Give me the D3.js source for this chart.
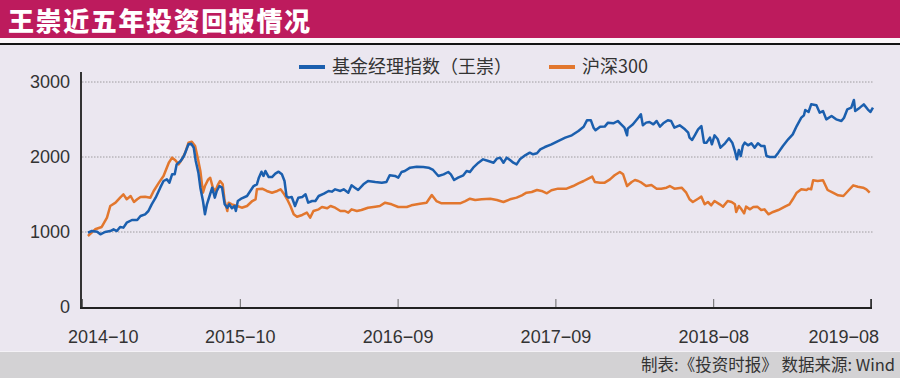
<!DOCTYPE html>
<html>
<head>
<meta charset="utf-8">
<script src="https://cdn.jsdelivr.net/npm/d3@7"></script>
<style>
  body { margin: 0; background: #fff; }
  text { font-family: "Liberation Sans", Arial, "Noto Sans CJK SC", sans-serif; }
  .cjk { font-family: "Noto Sans CJK SC", sans-serif; }
</style>
</head>
<body>
<div id="chart"></div>
<script>
// x is the trading day counted from the start (ticks every 240 days)
const tickDays = [0, 240, 480, 720, 960, 1200];
const tickLabels = ["2014−10", "2015−10", "2016−09", "2017−09", "2018−08", "2019−08"];
const yTicks = [0, 1000, 2000, 3000];
const seriesNames = ["基金经理指数（王崇）", "沪深300"];

// 基金经理指数(王崇)  [day, value]
const wangChong = [
  [9,991],[15,1013],[23,1004],[28,969],[35,1000],[43,1013],[48,1036],[53,1013],[58,1067],[63,1058],
  [68,1124],[76,1160],[84,1160],[89,1213],[96,1236],[101,1280],[106,1369],[112,1458],[119,1591],[124,1680],
  [129,1702],[133,1658],[137,1769],[141,1769],[144,1902],[150,1947],[155,2013],[158,2080],[162,2169],[166,2178],
  [170,2124],[173,1947],[177,1791],[180,1591],[184,1413],[187,1236],[190,1369],[194,1480],[198,1591],[202,1458],
  [205,1547],[209,1613],[213,1591],[217,1369],[221,1324],[224,1369],[228,1316],[232,1347],[234,1280],[237,1413],
  [243,1449],[251,1480],[256,1547],[261,1613],[266,1636],[269,1724],[273,1804],[276,1747],[279,1813],[284,1733],
  [289,1733],[294,1778],[299,1804],[304,1769],[308,1680],[311,1480],[314,1458],[319,1467],[324,1347],[329,1458],
  [335,1467],[340,1502],[344,1391],[350,1413],[355,1413],[360,1480],[368,1511],[375,1547],[380,1538],[385,1569],
  [393,1547],[398,1569],[405,1524],[410,1622],[415,1591],[420,1560],[428,1636],[435,1680],[446,1667],[456,1658],
  [463,1667],[468,1756],[476,1747],[481,1724],[486,1800],[491,1813],[499,1858],[509,1871],[519,1867],[527,1858],
  [534,1827],[542,1747],[550,1769],[557,1800],[561,1769],[566,1693],[572,1724],[580,1756],[585,1813],[590,1800],
  [595,1858],[603,1924],[610,1969],[618,1947],[626,1924],[631,1978],[636,1991],[641,1924],[646,1991],[651,1960],
  [656,1924],[661,1902],[666,1969],[674,2022],[681,2058],[686,2036],[692,2049],[697,2102],[704,2133],[714,2169],
  [724,2213],[735,2258],[745,2289],[755,2347],[763,2404],[768,2489],[774,2489],[778,2391],[781,2356],[788,2404],
  [795,2405],[800,2458],[808,2449],[815,2480],[820,2436],[825,2391],[829,2289],[830,2378],[838,2436],[846,2524],
  [850,2569],[853,2422],[858,2458],[863,2467],[869,2436],[874,2480],[879,2404],[884,2449],[891,2489],[896,2480],
  [901,2391],[909,2422],[917,2369],[922,2324],[924,2258],[928,2227],[932,2289],[937,2369],[942,2413],[946,2191],
  [950,2191],[955,2258],[958,2169],[962,2289],[967,2236],[971,2124],[978,2182],[984,2249],[989,2191],[993,2080],
  [996,1969],[999,2093],[1002,2013],[1005,2147],[1008,2191],[1013,2156],[1018,2182],[1023,2124],[1028,2182],[1033,2147],
  [1038,2147],[1041,2013],[1046,2000],[1054,2000],[1059,2058],[1066,2147],[1074,2236],[1081,2302],[1087,2413],[1094,2524],
  [1098,2556],[1100,2627],[1105,2600],[1109,2702],[1117,2689],[1122,2591],[1127,2613],[1132,2502],[1140,2547],[1147,2502],
  [1155,2480],[1159,2524],[1164,2636],[1170,2658],[1174,2760],[1176,2613],[1183,2658],[1189,2702],[1195,2636],[1199,2600],
  [1203,2658]
];

// 沪深300  [day, value]
const hs300 = [
  [9,947],[20,1036],[30,1067],[38,1191],[43,1347],[51,1391],[58,1458],[63,1502],[68,1436],[74,1480],
  [79,1400],[84,1436],[89,1467],[96,1471],[104,1458],[109,1547],[117,1658],[124,1747],[132,1924],[137,1991],
  [142,1956],[147,1902],[152,1969],[157,2058],[162,2191],[167,2204],[172,2147],[176,1991],[180,1813],[184,1524],
  [187,1613],[192,1702],[195,1724],[199,1591],[203,1547],[207,1636],[210,1680],[214,1636],[217,1413],[221,1280],
  [223,1391],[228,1369],[236,1347],[243,1324],[251,1347],[259,1413],[264,1436],[266,1569],[274,1578],[281,1547],
  [289,1524],[297,1547],[302,1569],[307,1511],[312,1436],[317,1347],[322,1236],[327,1204],[335,1227],[342,1258],
  [347,1191],[352,1280],[360,1302],[365,1333],[373,1316],[378,1347],[385,1324],[393,1280],[400,1280],[405,1258],
  [410,1302],[418,1280],[425,1293],[435,1324],[446,1338],[453,1347],[461,1391],[471,1369],[481,1333],[494,1333],
  [501,1356],[514,1378],[524,1391],[532,1493],[539,1413],[547,1382],[557,1382],[575,1382],[583,1413],[590,1444],
  [598,1427],[608,1436],[621,1444],[631,1427],[641,1400],[651,1436],[661,1458],[669,1489],[676,1524],[684,1533],
  [692,1560],[699,1547],[707,1516],[714,1556],[724,1578],[737,1578],[747,1613],[755,1649],[763,1680],[770,1711],
  [776,1738],[780,1667],[788,1658],[795,1658],[803,1702],[810,1756],[818,1800],[823,1769],[829,1613],[836,1667],
  [841,1693],[846,1680],[851,1658],[858,1613],[866,1627],[874,1578],[881,1578],[889,1591],[894,1613],[901,1578],
  [912,1591],[919,1524],[924,1436],[929,1400],[937,1444],[942,1471],[947,1369],[952,1400],[957,1356],[962,1413],
  [970,1369],[975,1338],[982,1413],[988,1400],[993,1369],[995,1267],[999,1347],[1003,1302],[1007,1249],[1010,1338],
  [1016,1302],[1021,1333],[1027,1338],[1033,1293],[1038,1302],[1044,1236],[1051,1267],[1059,1293],[1069,1338],[1076,1369],
  [1081,1436],[1087,1524],[1094,1569],[1102,1560],[1105,1578],[1109,1569],[1112,1689],[1119,1680],[1127,1689],[1134,1560],
  [1142,1524],[1150,1489],[1158,1480],[1165,1547],[1173,1622],[1180,1604],[1188,1591],[1193,1569],[1198,1524]
];

const colors = ["#1b5fae", "#e2772e"];
const width = 900, height = 378;
const margin = ({top: 72, right: 29, bottom: 71, left: 82});

const x = d3.scaleLinear()
    .domain([0, 1200])
    .range([margin.left, width - margin.right]);

const y = d3.scaleLinear()
    .domain([0, 3000])
    .range([height - margin.bottom, 82]);

const line = d3.line()
    .x(d => x(d[0]))
    .y(d => y(d[1]));

const svg = d3.select("#chart").append("svg")
    .attr("width", width).attr("height", height);

// background panels
svg.append("rect").attr("width", width).attr("height", height).attr("fill", "#ebe7f0");
svg.append("rect").attr("width", width).attr("height", 38).attr("fill", "#bd1b5d");
svg.append("rect").attr("y", 38).attr("width", width).attr("height", 5).attr("fill", "#fbf7fa");
svg.append("rect").attr("y", 43).attr("width", width).attr("height", 2).attr("fill", "#141414");
svg.append("rect").attr("y", 351).attr("width", width).attr("height", 1).attr("fill", "#f4f2f6");
svg.append("rect").attr("y", 352).attr("width", width).attr("height", 26).attr("fill", "#d3d2d4");

svg.append("text")
    .attr("class", "cjk")
    .attr("x", 8).attr("y", 31)
    .attr("fill", "#fff")
    .attr("font-size", 26)
    .attr("font-weight", 900)
    .attr("letter-spacing", 1.6)
    .text("王崇近五年投资回报情况");

svg.append("text")
    .attr("class", "cjk")
    .attr("x", 895).attr("y", 371)
    .attr("text-anchor", "end")
    .attr("fill", "#333")
    .attr("font-size", 16.5)
    .text("制表:《投资时报》 数据来源: Wind");

// gridlines
svg.append("g")
  .selectAll("line")
  .data(yTicks.filter(d => d > 0))
  .join("line")
    .attr("x1", x(0)).attr("x2", x(1200) + 2)
    .attr("y1", d => y(d)).attr("y2", d => y(d))
    .attr("stroke", "#8a8a8a").attr("stroke-width", 0.8)
    .attr("stroke-dasharray", "1.5,1.5");

// y axis
const yAxis = d3.axisLeft(y).tickValues(yTicks).tickFormat(d3.format("d"))
    .tickSize(0).tickPadding(12);
svg.append("g")
    .attr("transform", `translate(${margin.left},0)`)
    .call(yAxis)
    .call(g => g.select(".domain").remove())
    .call(g => g.selectAll("text")
        .attr("font-size", 18).attr("fill", "#333"));

svg.append("line")
    .attr("x1", margin.left - 1).attr("x2", margin.left - 1)
    .attr("y1", margin.top).attr("y2", y(0) + 2)
    .attr("stroke", "#333").attr("stroke-width", 2);

// x axis, ticks point up into the plot
const xAxis = d3.axisBottom(x)
    .tickValues(tickDays)
    .tickFormat((d, i) => tickLabels[i])
    .tickSize(-9).tickSizeOuter(0).tickPadding(22);

svg.append("g")
    .attr("transform", `translate(0,${y(0) + 1})`)
    .call(xAxis)
    .call(g => g.select(".domain").remove())
    .call(g => g.selectAll(".tick line").attr("stroke", "#666").attr("stroke-width", 1))
    .call(g => g.selectAll("text")
        .attr("font-size", 18).attr("fill", "#333")
        .each(function() {
          // keep end labels inside the panel
          const t = d3.select(this);
          const tr = d3.select(this.parentNode).attr("transform");
          const tx = +tr.match(/translate\(([-\d.]+)/)[1];
          const w = this.getComputedTextLength();
          const lo = 68, hi = 879;
          let dx = 0;
          if (tx - w / 2 < lo) dx = lo - (tx - w / 2);
          if (tx + w / 2 > hi) dx = hi - (tx + w / 2);
          t.attr("dx", dx);
        }));

svg.append("line")
    .attr("x1", margin.left - 2).attr("x2", x(1200) + 1)
    .attr("y1", y(0) + 1).attr("y2", y(0) + 1)
    .attr("stroke", "#222").attr("stroke-width", 2.2);

svg.append("line")
    .attr("x1", x(1200)).attr("x2", x(1200))
    .attr("y1", y(0) - 8).attr("y2", y(0))
    .attr("stroke", "#222").attr("stroke-width", 1.5);

// series
svg.append("path")
    .datum(hs300)
    .attr("fill", "none")
    .attr("stroke", colors[1]).attr("stroke-width", 2.5)
    .attr("stroke-linejoin", "round")
    .attr("d", line);

svg.append("path")
    .datum(wangChong)
    .attr("fill", "none")
    .attr("stroke", colors[0]).attr("stroke-width", 2.5)
    .attr("stroke-linejoin", "round")
    .attr("d", line);

// legend
const legend = svg.append("g")
  .selectAll("g")
  .data(seriesNames)
  .join("g")
    .attr("transform", (d, i) => `translate(${[299, 549][i]},67)`);

legend.append("line")
    .attr("x1", 0).attr("x2", 26)
    .attr("stroke", (d, i) => colors[i]).attr("stroke-width", 4);

legend.append("text")
    .attr("class", "cjk")
    .attr("x", 33).attr("dy", "0.35em")
    .attr("font-size", 18).attr("fill", "#333")
    .text(d => d);
</script>
</body>
</html>
